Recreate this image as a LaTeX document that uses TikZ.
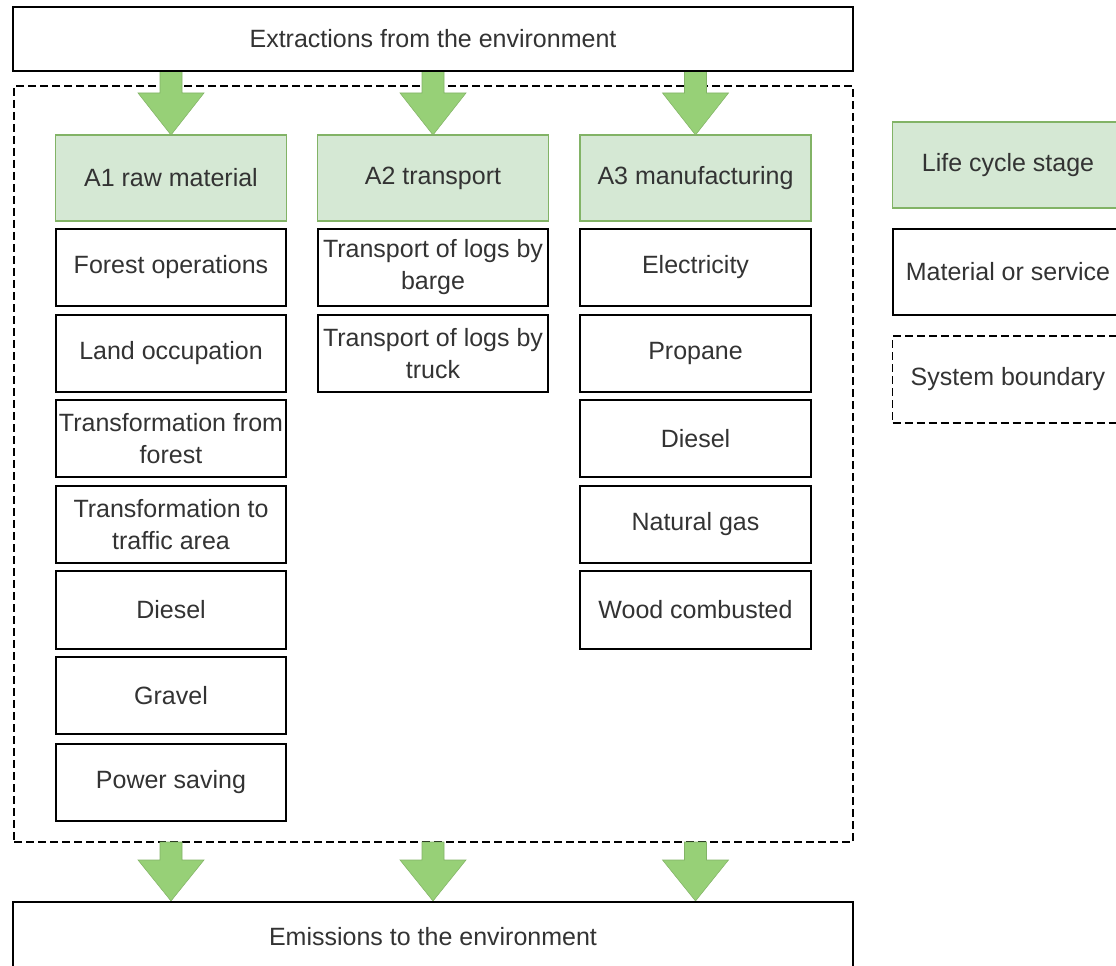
\documentclass[tikz,border=0pt]{standalone}
\usepackage{fontspec}
\setmainfont{Liberation Sans}
\begin{document}
\definecolor{stagefill}{HTML}{D5E8D4}
\definecolor{stageline}{HTML}{82B366}
\definecolor{flowfill}{HTML}{97D077}
\definecolor{txt}{HTML}{333333}
\begin{tikzpicture}[x=0.75pt,y=-0.75pt,
  base/.style={inner sep=0pt, align=center, text=txt,
    font=\fontsize{18.75}{24}\selectfont},
  envbox/.style={base, draw=black, line width=1.4pt, fill=white,
    minimum width=630pt, minimum height=48pt},
  stagebox/.style={base, draw=stageline, fill=stagefill, line width=1.1pt,
    minimum width=173pt, minimum height=64.5pt},
  itembox/.style={base, draw=black, line width=1.4pt, fill=white,
    minimum width=173pt, minimum height=58pt},
  boundary/.style={draw=black, line width=1.1pt, dash pattern=on 6pt off 3pt},
  flow/.style={fill=flowfill, draw=stageline, line width=0.4pt, line join=miter}
]
\useasboundingbox (0,0) rectangle (1116,966);

% system boundary
\node[boundary, inner sep=0pt, minimum width=629.25pt, minimum height=567pt]
  (sys) at (433.5,464) {};

% flow arrows (shaft 22px, head 66px wide)
\foreach \cx/\nm in {171/a,433/b,695.5/c}{
  \coordinate (in\nm) at (\cx,71);
  \coordinate (out\nm) at (\cx,842);
  \draw[flow] (in\nm) ++(-11,0) -- ++(0,22) -- ++(-22,0) -- ++(33,42)
     -- ++(33,-42) -- ++(-22,0) -- ++(0,-22) -- cycle;
  \draw[flow] (out\nm) ++(-11,0) -- ++(0,18) -- ++(-22,0) -- ++(33,41)
     -- ++(33,-41) -- ++(-22,0) -- ++(0,-18) -- cycle;
}

% environment boxes
\node[envbox] (extr) at (433,39) {Extractions from the environment};
\node[envbox, minimum height=52pt] (emis) at (433,937) {Emissions to the environment};

% life cycle stages
\node[stagebox] (A1) at (171,178) {A1 raw material};
\node[stagebox] (A2) at (433,178) {A2 transport};
\node[stagebox] (A3) at (695.5,178) {A3 manufacturing};

% A1 items
\node[itembox] (a11) at (171,267.5) {Forest operations};
\node[itembox] (a12) at (171,353.5) {Land occupation};
\node[itembox] (a13) at (171,438.5) {Transformation from\\forest};
\node[itembox] (a14) at (171,524.5) {Transformation to\\traffic area};
\node[itembox] (a15) at (171,610) {Diesel};
\node[itembox] (a16) at (171,695.5) {Gravel};
\node[itembox] (a17) at (171,782.5) {Power saving};

% A2 items
\node[itembox] (a21) at (433,267.5) {Transport of logs by\\barge};
\node[itembox] (a22) at (433,353.5) {Transport of logs by\\truck};

% A3 items
\node[itembox] (a31) at (695.5,267.5) {Electricity};
\node[itembox] (a32) at (695.5,353.5) {Propane};
\node[itembox] (a33) at (695.5,438.5) {Diesel};
\node[itembox] (a34) at (695.5,524.5) {Natural gas};
\node[itembox] (a35) at (695.5,610) {Wood combusted};

% legend
\node[stagebox] (lg1) at (1008,165) {Life cycle stage};
\node[itembox, minimum height=64.5pt] (lg2) at (1008,272) {Material or service};
\node[base, boundary, minimum width=173pt, minimum height=65pt]
  (lg3) at (1008,379.5) {System boundary};
\end{tikzpicture}
\end{document}
